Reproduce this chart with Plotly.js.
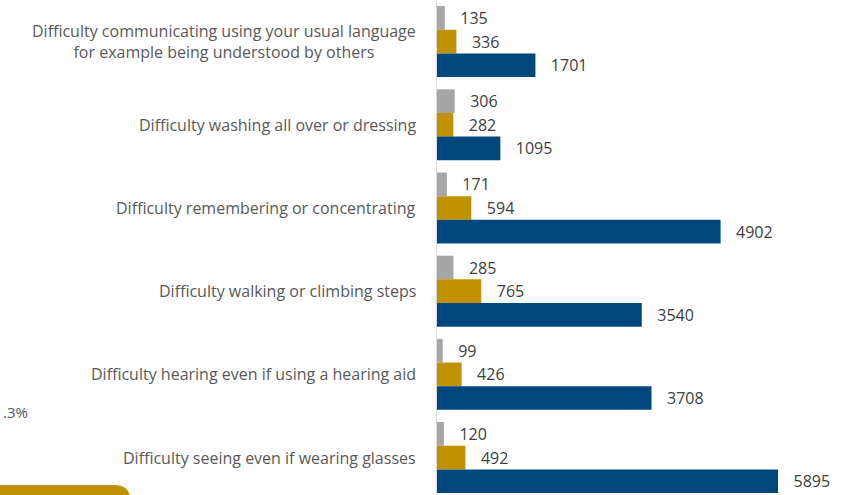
<!DOCTYPE html>
<html>
<head>
<meta charset="utf-8">
<script src="https://cdn.plot.ly/plotly-3.0.1.min.js"></script>
<style>html,body{margin:0;padding:0;background:#fff;}#chart{width:846px;height:495px;}</style>
</head>
<body>
<div id="chart"></div>
<script>
const categories = [
  "Difficulty communicating using your usual language<br>for example being understood by others",
  "Difficulty washing all over or dressing",
  "Difficulty remembering or concentrating",
  "Difficulty walking or climbing steps",
  "Difficulty hearing even if using a hearing aid",
  "Difficulty seeing even if wearing glasses"
];
const seriesGray = [135, 306, 171, 285, 99, 120];
const seriesGold = [336, 282, 594, 765, 426, 492];
const seriesBlue = [1701, 1095, 4902, 3540, 3708, 5895];
const sideNote = ".3%";

const FONT = "Open Sans, sans-serif";
const PAD = "\u00a0\u00a0\u00a0";

function mk(vals, color) {
  return {
    type: "bar", orientation: "h",
    x: vals, y: categories,
    marker: {color: color, line: {width: 0}},
    text: vals.map(v => PAD + v),
    textposition: "outside",
    constraintext: "none",
    cliponaxis: false,
    textfont: {family: FONT, size: 16, color: "#404040"},
    hoverinfo: "none"
  };
}

const data = [mk(seriesGray, "#a6a6a6"), mk(seriesGold, "#c09100"), mk(seriesBlue, "#00477d")];

const annotations = categories.map(c => ({
  xref: "paper", yref: "y", x: 0, y: c, xanchor: "right", yanchor: "middle",
  xshift: -19, text: c, showarrow: false, align: "center",
  font: {family: FONT, size: 16, color: "#595959"}
}));
annotations.push({
  xref: "paper", yref: "paper", x: (1 - 437) / 409, y: (495 - 412) / 495,
  xanchor: "left", yanchor: "middle", text: sideNote, showarrow: false,
  font: {family: FONT, size: 15, color: "#595959"}
});

const layout = {
  width: 846, height: 495,
  margin: {l: 437, r: 0, t: 0, b: 0},
  paper_bgcolor: "#ffffff", plot_bgcolor: "#ffffff",
  barmode: "group", bargap: 0.147, bargroupgap: 0,
  showlegend: false,
  xaxis: {range: [0, 7070], showgrid: false, zeroline: false, showticklabels: false, ticks: ""},
  yaxis: {type: "category", range: [5.45, -0.5], showticklabels: false, ticks: "",
          showgrid: false, zeroline: false, showline: true, linecolor: "#d9d9d9", linewidth: 1},
  annotations: annotations,
  shapes: [{
    type: "path", xref: "paper", yref: "paper", layer: "above",
    path: "M " + (-437/409) + " 0 L " + (-437/409) + " " + (10/495) +
          " L " + ((115-437)/409) + " " + (10/495) +
          " Q " + ((130-437)/409) + " " + (10/495) + " " + ((130-437)/409) + " " + (-5/495) +
          " L " + ((130-437)/409) + " 0 Z",
    fillcolor: "#c09100", line: {width: 0}
  }]
};

Plotly.newPlot("chart", data, layout, {staticPlot: true, displayModeBar: false});
</script>
</body>
</html>
